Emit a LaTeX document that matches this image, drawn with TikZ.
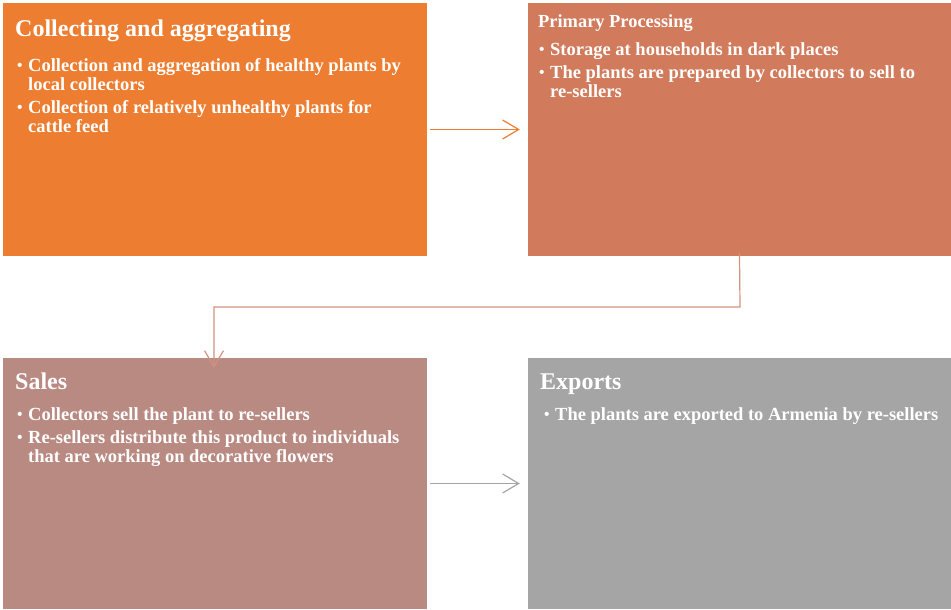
\documentclass[tikz,border=0pt]{standalone}
\usepackage{fontspec}
\setmainfont{Liberation Serif}
\usetikzlibrary{arrows.meta}
\definecolor{cOrange}{HTML}{ED7D31}
\definecolor{cTerra}{HTML}{D17B5C}
\definecolor{cRose}{HTML}{B98A82}
\definecolor{cGrey}{HTML}{A5A5A5}
\definecolor{cLink}{HTML}{D4917F}
\newcommand\bul{\makebox[11pt][l]{\raisebox{1pt}{\fontsize{15.5}{15.5}\selectfont\textbullet}}}
\newcommand\ind{\hspace*{11pt}}
\tikzset{
  stage/.style={draw=none, inner sep=0pt, minimum width=424pt, minimum height=253pt},
  bigtitle/.style={anchor=base west, inner sep=0pt, text=white,
    font=\bfseries\fontsize{24}{27}\selectfont},
  smalltitle/.style={anchor=base west, inner sep=0pt, text=white,
    font=\bfseries\fontsize{18.4}{19}\selectfont},
  items/.style={anchor=base west, inner sep=0pt, text=white,
    font=\bfseries\fontsize{18.5}{19}\selectfont},
  flow/.style={line width=1.2pt, -{Straight Barb[length=16pt,width=19pt,line width=1.2pt]}},
}
\begin{document}
\begin{tikzpicture}[x=1pt,y=-1pt]
\useasboundingbox (0,0) rectangle (951,610);

% stage boxes
\node[stage, fill=cOrange] (collect) at (215,129.5) {};
\node[stage, fill=cTerra, minimum width=423pt] (process) at (739.5,129.5) {};
\node[stage, fill=cRose, minimum height=251pt] (sales) at (215,483.5) {};
\node[stage, fill=cGrey, minimum width=423pt, minimum height=251pt] (exports) at (739.5,483.5) {};

% texts
\node[bigtitle] (t1) at (15,37) {Collecting and aggregating};
\node[items] (l1) at (17,71.5) {\renewcommand\arraystretch{1}%
  \begin{tabular}[t]{@{}l@{}}
  \bul Collection and aggregation of healthy plants by\\
  \ind local collectors\\[4pt]
  \bul Collection of relatively unhealthy plants for\\
  \ind cattle feed
  \end{tabular}};

\node[smalltitle] (t2) at (538,28) {Primary Processing};
\node[items] (l2) at (539,55.5) {\renewcommand\arraystretch{1}%
  \begin{tabular}[t]{@{}l@{}}
  \bul Storage at households in dark places\\[4pt]
  \bul The plants are prepared by collectors to sell to\\
  \ind re-sellers
  \end{tabular}};

\node[bigtitle] (t3) at (15,389) {Sales};
\node[items] (l3) at (17,420.5) {\renewcommand\arraystretch{1}%
  \begin{tabular}[t]{@{}l@{}}
  \bul Collectors sell the plant to re-sellers\\[4pt]
  \bul Re-sellers distribute this product to individuals\\
  \ind that are working on decorative flowers
  \end{tabular}};

\node[bigtitle] (t4) at (540,389) {Exports};
\node[items] (l4) at (544,420.5) {\bul The plants are exported to Armenia by re-sellers};

% connectors
\coordinate (bend1) at (740,307);
\coordinate (bend2) at (214,307);
\draw[flow, draw=cOrange] ([xshift=3pt]collect.east) -- ([xshift=-8pt]process.west);
\draw[flow, draw=cLink] ([yshift=3pt]process.south) -- (bend1) -- (bend2) -- ([yshift=-10pt]sales.north -| bend2);
\draw[flow, draw=cGrey] ([xshift=3pt]sales.east) -- ([xshift=-8pt]exports.west);
\end{tikzpicture}
\end{document}
